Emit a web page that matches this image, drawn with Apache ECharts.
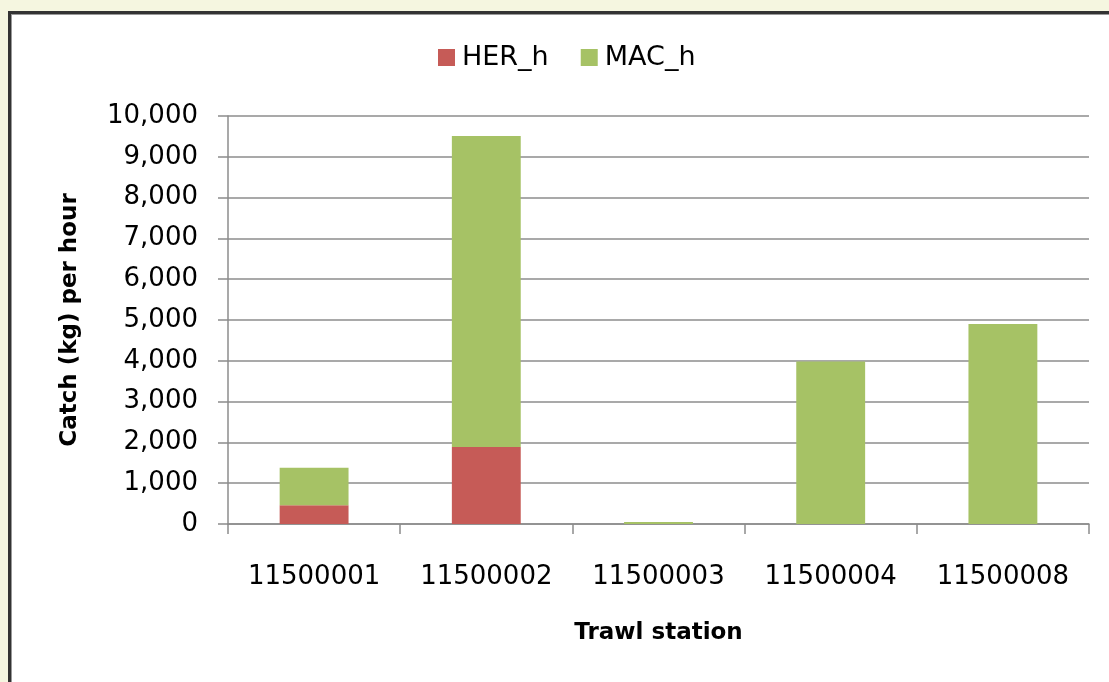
<!DOCTYPE html>
<html>
<head>
<meta charset="utf-8">
<script src="https://cdn.jsdelivr.net/npm/echarts@6/dist/echarts.min.js"></script>
<style>
html,body{margin:0;padding:0;width:1109px;height:682px;overflow:hidden;background:#F5F6E0;}
#panel{position:absolute;left:8px;top:11px;width:1200px;height:800px;background:#fff;border-left:3px solid #333;border-top:3px solid #333;box-shadow:inset 1px 1px 0 #999;}
#chart{position:absolute;left:0;top:0;width:1109px;height:682px;}
</style>
</head>
<body>
<div id="panel"></div>
<div id="chart"></div>
<script>
const stations = ['11500001','11500002','11500003','11500004','11500008'];
const herValues = [460, 1890, 0, 0, 0];
const macValues = [920, 7620, 50, 3980, 4900];
const seriesNames = ['HER_h', 'MAC_h'];
const yAxisTitle = 'Catch (kg) per hour';
const xAxisTitle = 'Trawl station';

const chart = echarts.init(document.getElementById('chart'), null, {renderer:'canvas'});
const font = 'DejaVu Sans';
chart.setOption({
  backgroundColor: 'transparent',
  animation: false,
  legend: {
    top: 39, left: 433,
    itemWidth: 17, itemHeight: 17, itemGap: 32,
    icon: 'rect',
    textStyle: {fontFamily: font, fontSize: 27, color: '#000', padding: [0, 0, 0, 2]},
    data: seriesNames
  },
  grid: {left: 228, right: 20, top: 116, bottom: 158},
  xAxis: {
    type: 'category',
    data: stations,
    name: xAxisTitle,
    nameLocation: 'middle',
    nameGap: 98,
    nameTextStyle: {fontFamily: font, fontSize: 23, fontWeight: 'bold', color: '#000'},
    axisLine: {lineStyle: {color: '#8c8c8c', width: 1.5}},
    axisTick: {show: true, length: 10, lineStyle: {color: '#8c8c8c', width: 1.5}},
    axisLabel: {fontFamily: font, fontSize: 26, color: '#000', margin: 40}
  },
  yAxis: {
    type: 'value',
    min: 0, max: 10000, interval: 1000,
    name: yAxisTitle,
    nameLocation: 'middle',
    nameGap: 146,
    nameTextStyle: {fontFamily: font, fontSize: 23, fontWeight: 'bold', color: '#000'},
    axisLine: {show: true, lineStyle: {color: '#8c8c8c', width: 1.5}},
    axisTick: {show: true, length: 10, lineStyle: {color: '#8c8c8c', width: 1.5}},
    splitLine: {lineStyle: {color: '#8c8c8c', width: 1.5}},
    axisLabel: {fontFamily: font, fontSize: 26, color: '#000', margin: 30,
      formatter: v => v.toLocaleString('en-US')}
  },
  series: [
    {name: seriesNames[0], type: 'bar', stack: 'total', data: herValues,
     barWidth: '40%', itemStyle: {color: '#C65B57'}},
    {name: seriesNames[1], type: 'bar', stack: 'total', data: macValues,
     barWidth: '40%', itemStyle: {color: '#A6C265'}}
  ]
});
</script>
</body>
</html>
